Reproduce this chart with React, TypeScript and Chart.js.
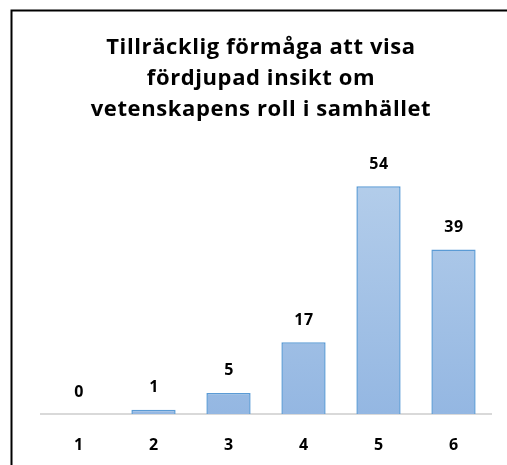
import React, { useEffect, useRef } from "react";
import { Chart, registerables } from "chart.js";

Chart.register(...registerables);

const categories = ["1", "2", "3", "4", "5", "6"];
const values = [0, 1, 5, 17, 54, 39];
const titleLines = [
  "Tillräcklig förmåga att visa",
  "fördjupad insikt om",
  "vetenskapens roll i samhället",
];
const yMax = 60;

const FONT = "'Open Sans', 'Liberation Sans', sans-serif";

const framePlugin = {
  id: "frame",
  beforeDraw(chart: any) {
    const ctx = chart.ctx;
    ctx.save();
    ctx.strokeStyle = "#000";
    ctx.lineWidth = 2;
    ctx.beginPath();
    ctx.moveTo(11.5, chart.height);
    ctx.lineTo(11.5, 10.5);
    ctx.lineTo(chart.width, 10.5);
    ctx.stroke();
    ctx.restore();
  },
};

const titlePlugin = {
  id: "spacedTitle",
  afterDraw(chart: any) {
    const ctx = chart.ctx;
    ctx.save();
    ctx.fillStyle = "#000";
    ctx.font = `bold 22px ${FONT}`;
    (ctx as any).letterSpacing = "0.6px";
    ctx.textAlign = "center";
    ctx.textBaseline = "middle";
    titleLines.forEach((line, i) => {
      ctx.fillText(line, 261, 48 + i * 31);
    });
    ctx.restore();
  },
};

const labelPlugin = {
  id: "barLabels",
  afterDatasetsDraw(chart: any) {
    const ctx = chart.ctx;
    const meta = chart.getDatasetMeta(0);
    ctx.save();
    ctx.fillStyle = "#000";
    ctx.font = `bold 16px ${FONT}`;
    (ctx as any).letterSpacing = "0.5px";
    ctx.textAlign = "center";
    ctx.textBaseline = "middle";
    meta.data.forEach((bar: any, i: number) => {
      ctx.fillText(String(values[i]), bar.x + 0.5, bar.y - 22);
    });
    ctx.restore();
  },
};

export default function App() {
  const ref = useRef<HTMLCanvasElement>(null);
  useEffect(() => {
    const canvas = ref.current!;
    const chart = new Chart(canvas, {
      type: "bar",
      data: {
        labels: categories,
        datasets: [
          {
            data: values,
            backgroundColor: (c: any) => {
              const area = c.chart.chartArea;
              if (!area) return "#a5c2e6";
              const g = c.chart.ctx.createLinearGradient(0, area.top, 0, area.bottom);
              g.addColorStop(0, "#b6cfeb");
              g.addColorStop(1, "#94b7e2");
              return g;
            },
            borderColor: "#5b9bd5",
            borderWidth: 1.5,
            barPercentage: 0.59,
            categoryPercentage: 1,
          },
        ],
      },
      options: {
        animation: false,
        responsive: false,
        maintainAspectRatio: false,
        layout: { padding: { left: 41, right: 16, top: 161, bottom: 0 } },
        plugins: {
          legend: { display: false },
          tooltip: { enabled: false },
          title: { display: false },
        },
        scales: {
          x: {
            grid: { display: false, drawTicks: false },
            border: { display: true, color: "#d9d9d9", width: 2 },
            ticks: {
              color: "#000",
              font: { family: FONT, size: 16, weight: "bold" },
              padding: 22,
            },
            afterFit: (scale: any) => {
              scale.height = 51;
            },
          },
          y: {
            display: false,
            min: 0,
            max: yMax,
          },
        },
      },
      plugins: [framePlugin, titlePlugin, labelPlugin],
    });
    return () => chart.destroy();
  }, []);
  return (
    <div style={{ position: "absolute", left: 0, top: 0, width: 507, height: 465, background: "#fff" }}>
      <canvas ref={ref} width={507} height={465} style={{ width: 507, height: 465, display: "block" }} />
    </div>
  );
}
